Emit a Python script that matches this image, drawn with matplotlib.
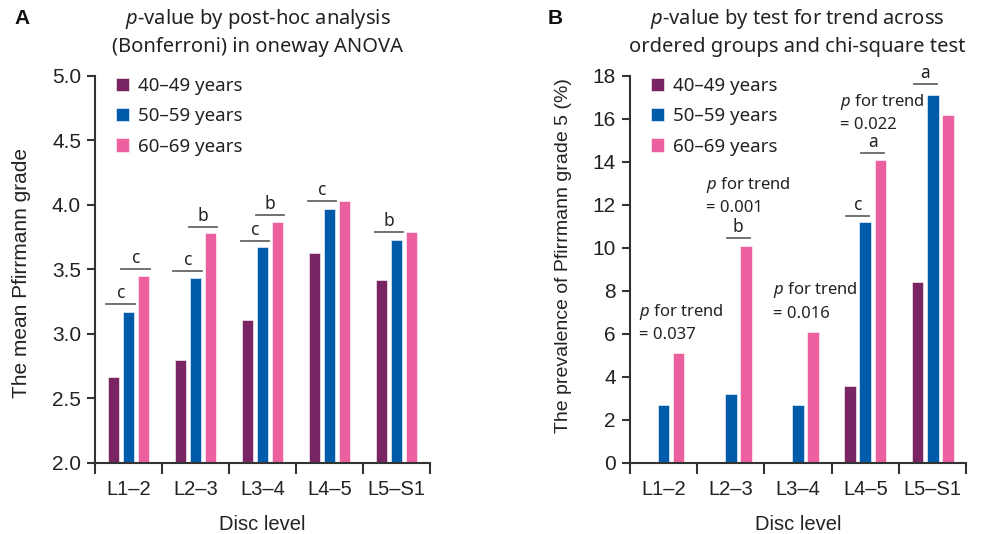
import numpy as np
import matplotlib
matplotlib.use("Agg")
import matplotlib.pyplot as plt

plt.rcParams['font.family'] = ['Liberation Sans', 'DejaVu Sans']
plt.rcParams['mathtext.fontset'] = 'custom'
plt.rcParams['mathtext.it'] = 'Noto Sans:italic'
plt.rcParams['mathtext.rm'] = 'Noto Sans'

# data
levels = ['L1–2', 'L2–3', 'L3–4', 'L4–5', 'L5–S1']
groups = ['40–49 years', '50–59 years', '60–69 years']
colors = ['#7A2563', '#005BAA', '#EC609F']

mean_grade_40s = [2.67, 2.80, 3.11, 3.63, 3.42]
mean_grade_50s = [3.17, 3.43, 3.67, 3.97, 3.73]
mean_grade_60s = [3.45, 3.78, 3.87, 4.03, 3.79]

grade5_40s = [0.0, 0.0, 0.0, 3.6, 8.4]
grade5_50s = [2.7, 3.2, 2.7, 11.2, 17.1]
grade5_60s = [5.1, 10.1, 6.1, 14.1, 16.2]

# (level index, first bar of the pair, line height, letter)
sig_a = [(0, 0, 3.23, 'c'), (0, 1, 3.50, 'c'), (1, 0, 3.49, 'c'), (1, 1, 3.83, 'b'),
         (2, 0, 3.72, 'c'), (2, 1, 3.92, 'b'), (3, 0, 4.03, 'c'), (4, 0, 3.79, 'b')]
sig_b = [(1, 1, 10.47, 'b'), (3, 0, 11.48, 'c'), (3, 1, 14.4, 'a'), (4, 0, 17.6, 'a')]

# (x, top y, p value)
trend_b = [(-0.37, 7.5, '0.037'), (0.63, 13.4, '0.001'), (1.63, 8.5, '0.016'), (2.63, 17.25, '0.022')]

BAR_STEP = 0.224
BAR_W = 0.175
SPINE_C = '#333333'
LINE_C = '#666666'
TEXT_FONT = ['Noto Sans', 'DejaVu Sans']


def draw_panel(ax, series, ylim, yticks, ylabel, sig, half_w, yfmt, ylabel_size):
    x = np.arange(len(levels))
    for i, (vals, c, lab) in enumerate(zip(series, colors, groups)):
        ax.bar(x + (i - 1) * BAR_STEP, vals, width=BAR_W, color=c, label=lab,
               edgecolor='white', linewidth=0.4, zorder=2)

    for lvl, first, y, letter in sig:
        xc = lvl + (first - 0.5) * BAR_STEP
        ax.plot([xc - half_w, xc + half_w], [y, y], color=LINE_C, lw=1.3, zorder=3)
        ax.annotate(letter, (xc, y), xytext=(0, 1.5), textcoords='offset points',
                    ha='center', va='bottom', fontsize=12.5, color='#222222', family=TEXT_FONT)

    ax.set_xlim(-0.5, len(levels) - 0.5)
    ax.set_ylim(*ylim)
    ax.set_yticks(yticks)
    ax.set_yticklabels([yfmt.format(v) for v in yticks])
    ax.set_xticks(np.arange(len(levels) + 1) - 0.5)
    ax.set_xticklabels([])
    ax.set_xticks(x, minor=True)
    ax.set_xticklabels(levels, minor=True)
    ax.tick_params(axis='x', which='major', direction='out', length=8, width=1.5, color=SPINE_C)
    ax.tick_params(axis='x', which='minor', length=0, pad=12, labelsize=14.5, labelcolor='#222222')
    ax.tick_params(axis='y', direction='out', length=6, width=1.5, color=SPINE_C,
                   labelsize=15, labelcolor='#222222', pad=4)
    for s in ['top', 'right']:
        ax.spines[s].set_visible(False)
    for s in ['left', 'bottom']:
        ax.spines[s].set_color(SPINE_C)
        ax.spines[s].set_linewidth(1.5)
    ax.set_xlabel('Disc level', fontsize=14.5, color='#222222', labelpad=12)
    ax.set_ylabel(ylabel, fontsize=ylabel_size, color='#222222')

    leg = ax.legend(loc='upper left', bbox_to_anchor=(0.012, 1.04), frameon=False,
                    handlelength=0.7, handleheight=0.7, handletextpad=0.5,
                    labelspacing=0.65, prop={'family': TEXT_FONT, 'size': 13.5})
    for t in leg.get_texts():
        t.set_color('#222222')


fig = plt.figure(figsize=(9.84, 5.34), dpi=100)
ax_a = fig.add_axes([0.0965, 0.133, 0.3405, 0.725])
ax_b = fig.add_axes([0.640, 0.133, 0.342, 0.725])

draw_panel(ax_a, [mean_grade_40s, mean_grade_50s, mean_grade_60s], (2.0, 5.0),
           np.arange(2.0, 5.01, 0.5), 'The mean Pfirrmann grade', sig_a, 0.216, '{:.1f}', 15)
draw_panel(ax_b, [grade5_40s, grade5_50s, grade5_60s], (0, 18),
           np.arange(0, 19, 2), 'The prevalence of Pfirrmann grade 5 (%)', sig_b, 0.17, '{:.0f}', 14)
ax_a.yaxis.set_label_coords(-0.19, 0.49)
ax_b.yaxis.set_label_coords(-0.172, 0.537)

for xp, ytop, pv in trend_b:
    ax_b.text(xp, ytop, '$\\it{p}$ for trend\n= ' + pv, ha='left', va='top', fontsize=12,
              color='#222222', family=TEXT_FONT, linespacing=1.45)

fig.text(0.262, 0.941, '$\\it{p}$-value by post-hoc analysis\n(Bonferroni) in oneway ANOVA',
         ha='center', va='center', fontsize=14.5, color='#222222', family=TEXT_FONT, linespacing=1.4)
fig.text(0.810, 0.941, '$\\it{p}$-value by test for trend across\nordered groups and chi-square test',
         ha='center', va='center', fontsize=14.5, color='#222222', family=TEXT_FONT, linespacing=1.4)
fig.text(0.015, 0.966, 'A', fontsize=15, fontweight='bold', color='#111111', va='center')
fig.text(0.557, 0.966, 'B', fontsize=15, fontweight='bold', color='#111111', va='center')

fig.savefig('out.png', dpi=100)
